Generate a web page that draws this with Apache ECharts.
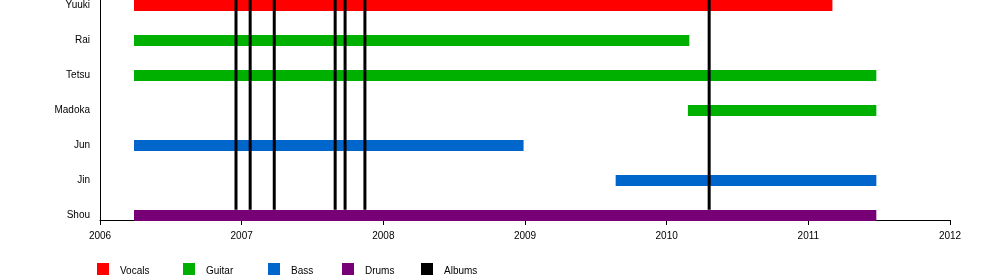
<!DOCTYPE html>
<html>
<head>
<meta charset="utf-8">
<script src="https://cdn.jsdelivr.net/npm/echarts@6/dist/echarts.min.js"></script>
<style>html,body{margin:0;padding:0;background:#fff}#c{width:1000px;height:280px}</style>
</head>
<body>
<div id="c"></div>
<script>
// Members from bottom (0) to top (6)
const members = ['Shou', 'Jin', 'Jun', 'Madoka', 'Tetsu', 'Rai', 'Yuuki'];
const memberRoles = ['Drums', 'Bass', 'Bass', 'Guitar', 'Guitar', 'Guitar', 'Vocals'];
const memberStart = [2006.24, 2009.64, 2006.24, 2010.15, 2006.24, 2006.24, 2006.24];
const memberEnd = [2011.48, 2011.48, 2008.99, 2011.48, 2011.48, 2010.16, 2011.17];
const albumDates = [2006.96, 2007.06, 2007.23, 2007.66, 2007.73, 2007.87, 2010.30];
const roles = ['Vocals', 'Guitar', 'Bass', 'Drums', 'Albums'];
const roleColors = ['#ff0000', '#00b000', '#0066cc', '#770077', '#000000'];
const legendLeft = [97, 183, 268, 342, 421];
const yearMin = 2006, yearMax = 2012;

const Y_MIN = -0.13, Y_MAX = 6.16;
const FONT = 'Liberation Sans, Arial, sans-serif';
const colorOf = r => roleColors[roles.indexOf(r)];

const series = [];
members.forEach((m, i) => {
  const c = colorOf(memberRoles[i]);
  series.push({
    name: memberRoles[i], type: 'line', symbol: 'none', silent: true,
    lineStyle: { width: 11, color: c, cap: 'butt' }, itemStyle: { color: c },
    data: [[memberStart[i], i], [memberEnd[i], i]], z: 2, animation: false
  });
});
albumDates.forEach(d => {
  series.push({
    name: 'Albums', type: 'line', symbol: 'none', silent: true,
    lineStyle: { width: 3, color: '#000', cap: 'butt' }, itemStyle: { color: '#000' },
    data: [[d, 0.16], [d, Y_MAX]], z: 3, animation: false
  });
});

const legends = roles.map((r, k) => ({
  data: [{ name: r, icon: 'rect' }], left: legendLeft[k], top: 263, padding: 0,
  itemWidth: 12, itemHeight: 12, selectedMode: false,
  formatter: '{t|{name}}',
  textStyle: { fontSize: 10, color: '#000', fontFamily: FONT,
    rich: { t: { fontSize: 10, color: '#000', fontFamily: FONT, padding: [5, 0, 0, 6] } } }
}));

const chart = echarts.init(document.getElementById('c'), null, { renderer: 'canvas' });
chart.setOption({
  animation: false,
  backgroundColor: '#fff',
  grid: { left: 100, right: 50, top: 0, bottom: 60, containLabel: false, outerBoundsMode: 'none' },
  legend: legends,
  xAxis: {
    type: 'value', min: yearMin, max: yearMax, interval: 1,
    axisLine: { show: true, onZero: false, lineStyle: { color: '#000', width: 1 } },
    axisTick: { show: true, length: 5, lineStyle: { color: '#000' } },
    splitLine: { show: false },
    axisLabel: { formatter: v => String(v), color: '#000', fontSize: 10, margin: 11, fontFamily: FONT }
  },
  yAxis: {
    type: 'value', min: Y_MIN, max: Y_MAX,
    axisLine: { show: true, onZero: false, lineStyle: { color: '#000', width: 1 } },
    axisTick: { show: false },
    splitLine: { show: false },
    axisLabel: { customValues: members.map((_, i) => i), formatter: v => members[Math.round(v)] || '',
      color: '#000', fontSize: 10, margin: 10, fontFamily: FONT }
  },
  series: series
});
</script>
</body>
</html>
